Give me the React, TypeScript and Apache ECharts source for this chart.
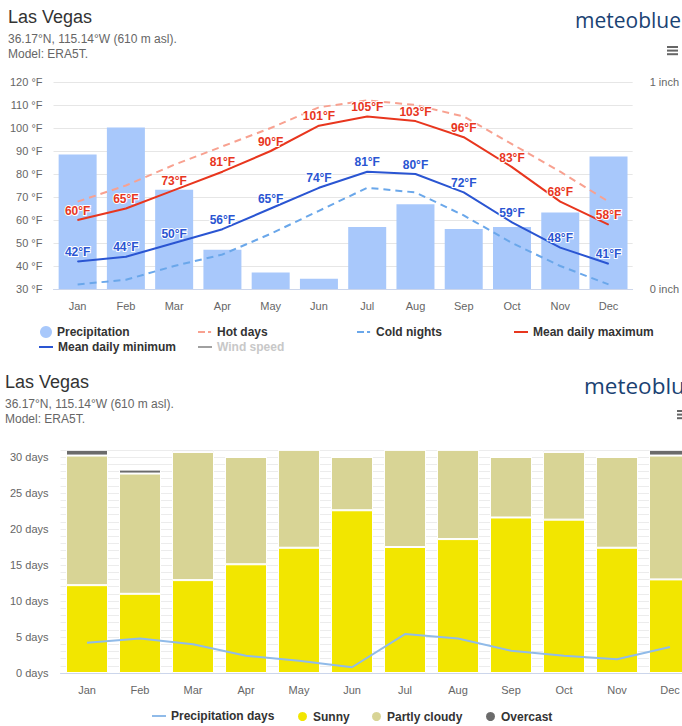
import React, { useEffect, useRef } from 'react';
import * as echarts from 'echarts';

const months = ['Jan', 'Feb', 'Mar', 'Apr', 'May', 'Jun', 'Jul', 'Aug', 'Sep', 'Oct', 'Nov', 'Dec'];
// top chart (°F, inch)
const precipitation = [0.65, 0.78, 0.48, 0.19, 0.08, 0.05, 0.30, 0.41, 0.29, 0.30, 0.37, 0.64];
const hotDays = [68, 75, 84, 92, 100, 109, 112, 110, 105, 93, 81, 68];
const coldNights = [32, 34, 40, 45, 54, 64, 74, 72, 62, 50, 40, 32];
const meanMax = [60, 65, 73, 81, 90, 101, 105, 103, 96, 83, 68, 58];
const meanMin = [42, 44, 50, 56, 65, 74, 81, 80, 72, 59, 48, 41];
// bottom chart (days)
const sunny = [12.2, 11.0, 12.9, 15.1, 17.4, 22.6, 17.5, 18.6, 21.6, 21.3, 17.4, 13.0];
const partlyCloudy = [18.0, 16.7, 17.8, 14.9, 13.6, 7.4, 13.5, 12.4, 8.4, 9.4, 12.6, 17.2];
const overcast = [0.8, 0.55, 0.3, 0, 0, 0, 0, 0, 0, 0.3, 0, 0.8];
const precipDays = [4.2, 4.8, 4.0, 2.4, 1.7, 0.8, 5.4, 4.8, 3.1, 2.4, 1.9, 3.6];

const FONT = '"Liberation Sans", Arial, Helvetica, sans-serif';
const RED = '#e8361e';
const BLUE = '#2a55d2';
const HOT = '#f8a190';
const COLD = '#6aa7ea';
const BAR = '#a8c8fb';

const SOLID_ICON = 'path://M0,0h14v2h-14z';
const DASH_ICON = 'path://M0,0h7v2h-7z M10,0h3v2h-3z M13.9,0h0.1v2h-0.1z';

const legendText = { color: '#333', fontWeight: 'bold' as const, fontSize: 12, fontFamily: FONT };

function header(titleLeft: number, titleTop: number, logoLeft: number, logoSize: number) {
  return [
    { type: 'text', left: titleLeft, top: titleTop, style: { text: 'Las Vegas', font: `18px ${FONT}`, fill: '#333' } },
    {
      type: 'text', left: titleLeft, top: titleTop + 24,
      style: { text: '36.17°N, 115.14°W (610 m asl).\nModel: ERA5T.', font: `12px ${FONT}`, fill: '#666', lineHeight: 14.5 },
    },
    { type: 'text', left: logoLeft, top: titleTop + 1, style: { text: 'meteoblue', font: `500 ${logoSize}px "Open Sans", sans-serif`, fill: '#1a4273' } },
  ];
}

function menuBars(x: number, y: number, w: number) {
  return [0, 1, 2].map((i) => ({
    type: 'rect', left: x, top: y + i * 3.6, shape: { width: w, height: 2 }, style: { fill: '#666' },
  }));
}

function TopChart() {
  const ref = useRef<HTMLDivElement>(null);
  useEffect(() => {
    const chart = echarts.init(ref.current!, undefined, { renderer: 'svg' });
    const lbl = (color: string) => ({
      show: true, position: 'top', distance: 3, formatter: '{c}°F', color, fontWeight: 'bold', fontSize: 12,
      fontFamily: FONT, textBorderColor: '#fff', textBorderWidth: 2,
    });
    const lg = (name: string, left: number, top: number, extra: any = {}) => ({
      data: [name], left, top, padding: 0, itemWidth: 14, itemHeight: 2, icon: SOLID_ICON,
      textStyle: legendText, selectedMode: false, ...extra,
    });
    chart.setOption({
      animation: false,
      textStyle: { fontFamily: FONT },
      graphic: [...header(8, 8, 575, 21), ...menuBars(667, 46, 11)],
      grid: { left: 53.5, width: 588, top: 82, height: 207 },
      legend: [
        lg('Precipitation', 40, 326, { icon: 'circle', itemWidth: 12, itemHeight: 12 }),
        lg('Hot days', 198, 326, { icon: DASH_ICON }),
        lg('Cold nights', 357, 326, { icon: DASH_ICON }),
        lg('Mean daily maximum', 514, 326),
        lg('Mean daily minimum', 39, 341),
        lg('Wind speed', 198, 341, { textStyle: { ...legendText, color: '#c8c8c8' } }),
      ],
      xAxis: {
        type: 'category', data: months,
        axisLine: { lineStyle: { color: '#ccd6eb' } }, axisTick: { show: false },
        axisLabel: { color: '#666', fontSize: 11, margin: 11 },
      },
      yAxis: [
        {
          type: 'value', min: 30, max: 120, interval: 10,
          axisLabel: { formatter: '{value} °F', color: '#666', fontSize: 11, margin: 11 },
          splitLine: { lineStyle: { color: '#e6e6e6' } },
        },
        {
          type: 'value', min: 0, max: 1, interval: 1, position: 'right',
          axisLabel: { formatter: '{value} inch', color: '#666', fontSize: 11, margin: 17 },
          splitLine: { show: false },
        },
      ],
      series: [
        { name: 'Precipitation', type: 'bar', yAxisIndex: 1, data: precipitation, barWidth: 38, itemStyle: { color: BAR }, z: 1 },
        { name: 'Hot days', type: 'line', data: hotDays, symbol: 'none', color: HOT, lineStyle: { color: HOT, width: 2, type: [7, 5] }, z: 2 },
        { name: 'Cold nights', type: 'line', data: coldNights, symbol: 'none', color: COLD, lineStyle: { color: COLD, width: 2, type: [7, 5] }, z: 2 },
        {
          name: 'Mean daily maximum', type: 'line', data: meanMax, symbol: 'circle', symbolSize: 1, showSymbol: true,
          color: RED, itemStyle: { color: RED }, lineStyle: { color: RED, width: 2 }, label: lbl(RED), z: 3,
        },
        {
          name: 'Mean daily minimum', type: 'line', data: meanMin, symbol: 'circle', symbolSize: 1, showSymbol: true,
          color: BLUE, itemStyle: { color: BLUE }, lineStyle: { color: BLUE, width: 2 }, label: lbl(BLUE), z: 3,
        },
        { name: 'Wind speed', type: 'line', data: [], symbol: 'none', color: '#a0a0a0', lineStyle: { color: '#a0a0a0', width: 2 } },
      ],
    });
    return () => chart.dispose();
  }, []);
  return <div ref={ref} style={{ position: 'absolute', left: 0, top: 0, width: 682, height: 362 }} />;
}

function BottomChart() {
  const ref = useRef<HTMLDivElement>(null);
  useEffect(() => {
    const chart = echarts.init(ref.current!, undefined, { renderer: 'svg' });
    const lg = (name: string, left: number, extra: any = {}) => ({
      data: [name], left, top: 345, padding: 0, itemWidth: 11, itemHeight: 11, icon: 'circle',
      textStyle: legendText, selectedMode: false, ...extra,
    });
    const dayPx = 7.2;
    chart.setOption({
      animation: false,
      textStyle: { fontFamily: FONT },
      graphic: [...header(5, 8, 584, 22.5), ...menuBars(677, 45, 11)],
      grid: { left: 60.5, width: 636, top: 308 - 31 * dayPx, height: 31 * dayPx },
      legend: [
        lg('Precipitation days', 152, { icon: SOLID_ICON, itemWidth: 14, itemHeight: 2, top: 345 }),
        lg('Sunny', 296),
        lg('Partly cloudy', 370),
        lg('Overcast', 484),
      ],
      xAxis: {
        type: 'category', data: months,
        axisLine: { lineStyle: { color: '#ccd6eb' } }, axisTick: { show: false },
        axisLabel: { color: '#666', fontSize: 11, margin: 11 },
      },
      yAxis: {
        type: 'value', min: 0, max: 31, interval: 1,
        axisLabel: {
          formatter: (v: number) => (v % 5 === 0 ? `${v} days` : ''), color: '#666', fontSize: 11, margin: 12,
        },
        splitLine: { lineStyle: { color: '#ececec' } },
      },
      series: [
        { name: 'Sunny', type: 'bar', stack: 'sky', data: sunny, barWidth: 42, itemStyle: { color: '#f2e600', borderColor: '#fff', borderWidth: 1 } },
        { name: 'Partly cloudy', type: 'bar', stack: 'sky', data: partlyCloudy, barWidth: 42, itemStyle: { color: '#d8d495', borderColor: '#fff', borderWidth: 1 } },
        { name: 'Overcast', type: 'bar', stack: 'sky', data: overcast, barWidth: 42, itemStyle: { color: '#6b6b6b', borderColor: '#fff', borderWidth: 1 } },
        { name: 'Precipitation days', type: 'line', data: precipDays, symbol: 'none', color: '#90bbe9', lineStyle: { color: '#90bbe9', width: 2 }, z: 5 },
      ],
    });
    return () => chart.dispose();
  }, []);
  return <div ref={ref} style={{ position: 'absolute', left: 0, top: 365, width: 704, height: 361 }} />;
}

export default function App() {
  return (
    <div style={{ position: 'absolute', left: 0, top: 0, width: 682, height: 726, overflow: 'hidden', background: '#fff' }}>
      <TopChart />
      <BottomChart />
    </div>
  );
}
